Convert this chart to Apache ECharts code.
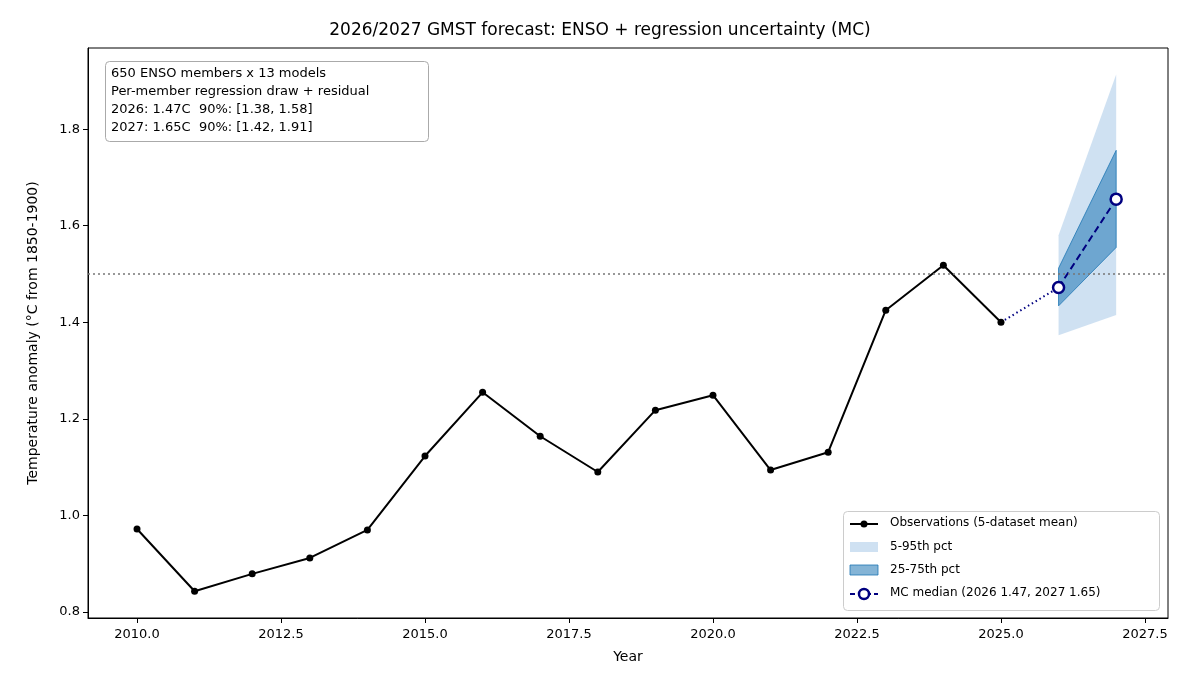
<!DOCTYPE html>
<html><head><meta charset="utf-8">
<script src="https://cdn.jsdelivr.net/npm/echarts@6/dist/echarts.min.js"></script>
<style>html,body{margin:0;padding:0;background:#fff}#c{width:1200px;height:693px}</style>
</head><body><div id="c"></div>
<script>
const obsYears = [2010,2011,2012,2013,2014,2015,2016,2017,2018,2019,2020,2021,2022,2023,2024,2025];
const obsValues = [0.972,0.843,0.879,0.912,0.970,1.123,1.255,1.164,1.090,1.218,1.249,1.094,1.131,1.425,1.518,1.400];
const fcYears = [2026,2027];
const fcMedian = [1.472,1.655];
const p5 = [1.373,1.415];
const p95 = [1.580,1.913];
const p25 = [1.434,1.555];
const p75 = [1.512,1.756];
const xTicks = [2010,2012.5,2015,2017.5,2020,2022.5,2025,2027.5];
const yTicks = [0.8,1.0,1.2,1.4,1.6,1.8];
const threshold = 1.5;

const F = 'DejaVu Sans';
function band(lo, hi, name, fill, stroke) {
  return {
    type:'custom', name, z:1,
    data:[0],
    renderItem:(params, api)=>{
      const pts=[];
      fcYears.forEach((y,i)=>pts.push(api.coord([y,hi[i]])));
      for(let i=fcYears.length-1;i>=0;i--) pts.push(api.coord([fcYears[i],lo[i]]));
      return {type:'polygon', shape:{points:pts}, style:{fill, stroke, lineWidth: stroke?1:0}};
    }
  };
}
const chart = echarts.init(document.getElementById('c'));
chart.setOption({
  animation:false,
  title:{text:'2026/2027 GMST forecast: ENSO + regression uncertainty (MC)', left:'center', top:17,
    textStyle:{fontFamily:F,fontSize:17,fontWeight:'normal',color:'#000'}},
  grid:{left:88,right:32,top:48,bottom:75,show:true,borderColor:'#000',borderWidth:1},
  xAxis:{type:'value',min:2009.149,max:2027.9,name:'Year',nameLocation:'middle',nameGap:32,
    nameTextStyle:{fontFamily:F,fontSize:14,color:'#000'},
    axisLine:{onZero:false,lineStyle:{color:'#000'}},splitLine:{show:false},
    axisTick:{customValues:xTicks,length:5,lineStyle:{color:'#000'}},
    axisLabel:{customValues:xTicks,formatter:v=>v.toFixed(1),fontFamily:F,fontSize:13,color:'#000',margin:10}},
  yAxis:{type:'value',min:0.7876,max:1.968,name:'Temperature anomaly (°C from 1850-1900)',nameLocation:'middle',nameGap:48,
    nameTextStyle:{fontFamily:F,fontSize:14,color:'#000'},
    axisLine:{onZero:false,lineStyle:{color:'#000'}},splitLine:{show:false},
    axisTick:{customValues:yTicks,length:5,lineStyle:{color:'#000'}},
    axisLabel:{customValues:yTicks,formatter:v=>v.toFixed(1),fontFamily:F,fontSize:13,color:'#000',margin:8}},
  series:[
    band(p5,p95,'5-95th pct','rgba(160,195,230,0.5)',null),
    band(p25,p75,'25-75th pct','rgba(31,119,180,0.55)','rgba(31,119,180,0.8)'),
    {type:'line',name:'Observations (5-dataset mean)',data:obsYears.map((y,i)=>[y,obsValues[i]]),
      symbol:'circle',symbolSize:7,itemStyle:{color:'#000'},lineStyle:{color:'#000',width:2},z:3,
      markLine:{silent:true,symbol:'none',label:{show:false},lineStyle:{color:'#777',type:[2,3],width:1.5},data:[{yAxis:threshold}]}},
    {type:'line',data:[[obsYears[obsYears.length-1],obsValues[obsValues.length-1]],[fcYears[0],fcMedian[0]]],
      symbol:'none',lineStyle:{color:'#000080',type:[1.5,3],width:2},z:3},
    {type:'line',name:'MC median',data:fcYears.map((y,i)=>[y,fcMedian[i]]),
      symbol:'circle',symbolSize:11,itemStyle:{color:'#fff',borderColor:'#000080',borderWidth:2.5},
      lineStyle:{color:'#000080',type:[7,4],width:2},z:4}
  ],
  graphic:[
    {type:'rect',left:105,top:61,shape:{width:323,height:80,r:4},style:{fill:'#fff',stroke:'#aaa',lineWidth:1},z:10},
    {type:'text',left:111,top:65,z:11,style:{text:'650 ENSO members x 13 models\nPer-member regression draw + residual\n2026: 1.47C  90%: [1.38, 1.58]\n2027: 1.65C  90%: [1.42, 1.91]',
      font:'13px "DejaVu Sans"',lineHeight:18,fill:'#000'}},
    {type:'rect',left:843,top:511,shape:{width:316,height:99,r:4},style:{fill:'#fff',stroke:'#ccc',lineWidth:1},z:10},
    {type:'line',z:11,shape:{x1:850,y1:524,x2:878,y2:524},style:{stroke:'#000',lineWidth:2}},
    {type:'circle',z:11,shape:{cx:864,cy:524,r:3.5},style:{fill:'#000'}},
    {type:'text',z:11,left:890,top:517,style:{text:'Observations (5-dataset mean)',font:'12px "DejaVu Sans"',fill:'#000'}},
    {type:'rect',z:11,shape:{x:850,y:542,width:28,height:10},style:{fill:'rgba(160,195,230,0.5)'}},
    {type:'text',z:11,left:890,top:541,style:{text:'5-95th pct',font:'12px "DejaVu Sans"',fill:'#000'}},
    {type:'rect',z:11,shape:{x:850,y:565,width:28,height:10},style:{fill:'rgba(31,119,180,0.55)',stroke:'rgba(31,119,180,0.8)'}},
    {type:'text',z:11,left:890,top:564,style:{text:'25-75th pct',font:'12px "DejaVu Sans"',fill:'#000'}},
    {type:'line',z:11,shape:{x1:850,y1:594,x2:878,y2:594},style:{stroke:'#000080',lineWidth:2,lineDash:[5,3]}},
    {type:'circle',z:12,shape:{cx:864,cy:594,r:5},style:{fill:'#fff',stroke:'#000080',lineWidth:2.5}},
    {type:'text',z:11,left:890,top:587,style:{text:'MC median (2026 1.47, 2027 1.65)',font:'12px "DejaVu Sans"',fill:'#000'}}
  ]
});
</script></body></html>
